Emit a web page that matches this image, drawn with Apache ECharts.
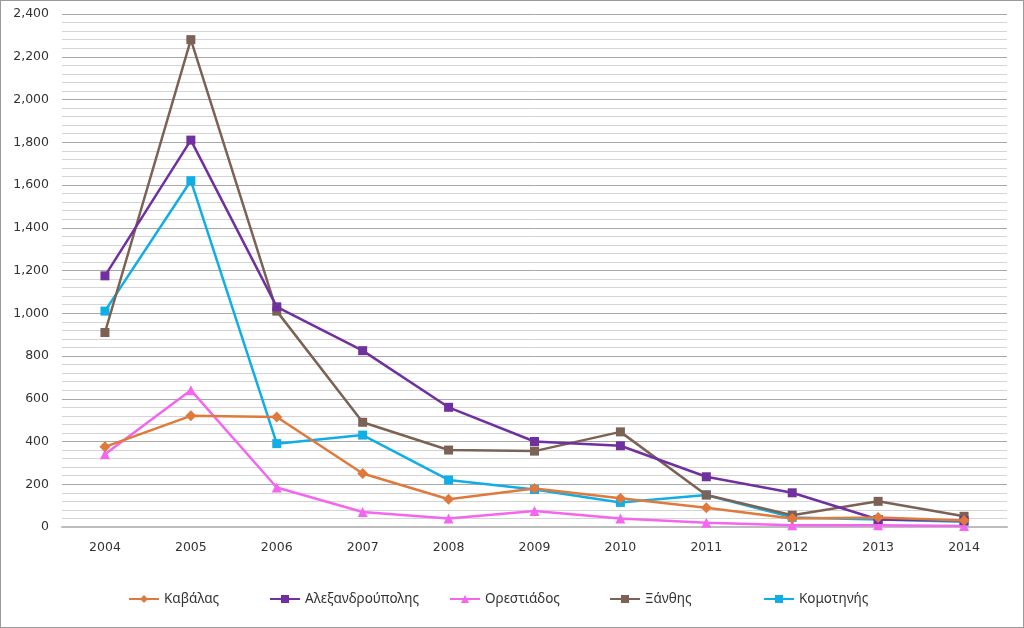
<!DOCTYPE html>
<html><head><meta charset="utf-8">
<script src="https://cdn.jsdelivr.net/npm/echarts@6/dist/echarts.min.js"></script>
<style>html,body{margin:0;padding:0;background:#fff}#c{width:1024px;height:628px;box-sizing:border-box;border:1px solid #9a9a9a}</style>
</head><body><div id="c"></div>
<script>
const years = ['2004','2005','2006','2007','2008','2009','2010','2011','2012','2013','2014'];
const kavalas = [375, 520, 515, 250, 130, 180, 135, 90, 40, 45, 30];
const alexandroupolis = [1175, 1810, 1030, 825, 560, 400, 380, 235, 160, 35, 30];
const orestiados = [340, 640, 185, 70, 40, 75, 40, 20, 8, 8, 5];
const xanthis = [910, 2280, 1010, 490, 360, 355, 445, 150, 55, 120, 50];
const komotinis = [1010, 1620, 390, 430, 220, 175, 115, 150, 45, 35, 25];
const names = ['Καβάλας','Αλεξανδρούπολης','Ορεστιάδος','Ξάνθης','Κομοτηνής'];
const colors = ['#E07A3C','#7030A0','#F466F0','#7B6254','#10AEE6'];
const symbols = ['diamond','rect','triangle','rect','rect'];
const symSizes = [11, 9, 10, 9, 9];
const datasets = [kavalas, alexandroupolis, orestiados, xanthis, komotinis];
const legendLeft = [122, 263, 443, 603, 757];

const chart = echarts.init(document.getElementById('c'));
chart.setOption({
  animation: false,
  grid: {left: 61, right: 16, top: 13, bottom: 100},
  xAxis: {
    type: 'category', data: years, boundaryGap: true,
    axisLine: {lineStyle: {color: '#BDBDBD', width: 2}},
    axisTick: {show: false},
    axisLabel: {color: '#333', fontFamily: 'DejaVu Sans', fontSize: 12.5, margin: 14}
  },
  yAxis: {
    type: 'value', min: 0, max: 2400, interval: 200,
    axisLine: {show: false}, axisTick: {show: false},
    axisLabel: {color: '#333', fontFamily: 'DejaVu Sans', fontSize: 12.5, margin: 13,
      formatter: v => v.toLocaleString('en-US')},
    splitLine: {lineStyle: {color: '#A8A8A8', width: 1}},
    minorTick: {show: false, splitNumber: 5},
    minorSplitLine: {show: true, lineStyle: {color: '#D4D4D4', width: 1}}
  },
  legend: names.map((n, i) => ({
    data: [n], left: legendLeft[i], top: 586, itemWidth: 30, itemHeight: 10, itemGap: 0,
    textStyle: {color: '#333', fontFamily: 'Noto Sans', fontSize: 13.5}
  })),
  series: datasets.map((d, i) => ({
    name: names[i], type: 'line', data: d,
    symbol: symbols[i], symbolSize: symSizes[i],
    lineStyle: {color: colors[i], width: 2.5},
    itemStyle: {color: colors[i]},
    z: 10 - i
  }))
});
</script></body></html>
